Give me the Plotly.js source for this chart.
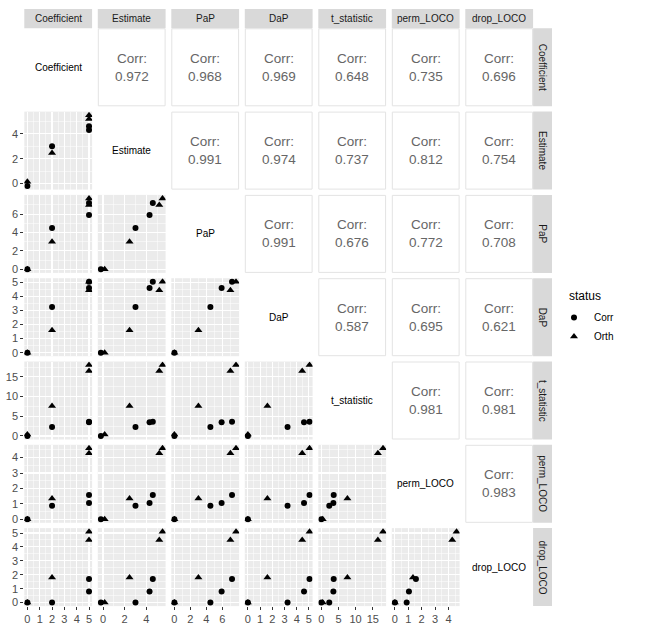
<!DOCTYPE html>
<html>
<head>
<meta charset="utf-8">
<script src="https://cdn.plot.ly/plotly-3.0.1.min.js"></script>
<style>
  body { margin: 0; background: #fff; }
  #plot { width: 669px; height: 625px; }
</style>
</head>
<body>
<div id="plot"></div>
<script>
// variables shown in the pairs matrix
const varNames = ['Coefficient', 'Estimate', 'PaP', 'DaP', 't_statistic', 'perm_LOCO', 'drop_LOCO'];
const statusNames = ['Corr', 'Orth'];

// values (status Corr / Orth)
const coefficientCorr = [0, 2, 5, 5];
const coefficientOrth = [0, 2, 5, 5];
const estimateCorr = [-0.2, 3.0, 4.3, 4.6];
const estimateOrth = [0.15, 2.45, 5.2, 5.5];
const papCorr = [0, 4.5, 5.9, 7.2];
const papOrth = [0, 3.0, 7.0, 7.7];
const dapCorr = [0, 3.25, 4.6, 5.05];
const dapOrth = [0, 1.6, 4.45, 5.05];
const tstatCorr = [0, 2.3, 3.5, 3.6];
const tstatOrth = [0.4, 7.6, 16.5, 18.0];
const permCorr = [0, 0.88, 1.05, 1.57];
const permOrth = [0, 1.35, 4.28, 4.6];
const dropCorr = [0, 0, 0.8, 1.7];
const dropOrth = [0, 1.8, 4.5, 5.1];

// major tick step of each variable's axis
const tickSteps = [1, 2, 2, 1, 5, 1, 1];

// correlation labels of the upper triangle, row by row
const corrLabels = [
  '0.972', '0.968', '0.969', '0.648', '0.735', '0.696',
  '0.991', '0.974', '0.737', '0.812', '0.754',
  '0.991', '0.676', '0.772', '0.708',
  '0.587', '0.695', '0.621',
  '0.981', '0.981',
  '0.983'
];

const values = [
  [coefficientCorr, coefficientOrth],
  [estimateCorr, estimateOrth],
  [papCorr, papOrth],
  [dapCorr, dapOrth],
  [tstatCorr, tstatOrth],
  [permCorr, permOrth],
  [dropCorr, dropOrth]
];

// page geometry in pixels
const W = 669, H = 625;
const colLeft0 = 24.3, colStride = 73.5, colWidth = 67.8;
const rowTop0 = 28.3, rowStride = 83.3, rowHeight = 78;
const stripTop = 9, stripRight = 552;

const px = v => v / W;
const py = v => 1 - v / H;
const colL = j => colLeft0 + j * colStride;
const colR = j => colL(j) + colWidth;
const rowT = i => rowTop0 + i * rowStride;
const rowB = i => rowT(i) + rowHeight;

// ggplot style: breaks inside the data range, 5% expansion of the axis
const limits = values.map(v => {
  const all = v[0].concat(v[1]);
  return [Math.min(...all), Math.max(...all)];
});
const ranges = limits.map(([lo, hi]) => {
  const pad = (hi - lo) * 0.05;
  return [lo - pad, hi + pad];
});
const breaks = limits.map(([lo, hi], k) => {
  const out = [];
  const s = tickSteps[k];
  for (let t = Math.ceil(lo / s) * s; t <= hi + 1e-9; t += s) out.push(t);
  return out;
});

const tickFont = { family: 'Liberation Sans, Arial, sans-serif', size: 11, color: '#4D4D4D' };
const data = [];
const layout = {
  width: W, height: H,
  margin: { l: 0, r: 0, t: 0, b: 0 },
  paper_bgcolor: '#fff',
  plot_bgcolor: '#EBEBEB',
  font: { family: 'Liberation Sans, Arial, sans-serif', color: '#1A1A1A' },
  showlegend: true,
  legend: {
    font: { size: 10, color: '#000' },
    x: px(554), y: py(303), xanchor: 'left', yanchor: 'top',
    bgcolor: 'rgba(0,0,0,0)', tracegroupgap: 0
  },
  shapes: [],
  annotations: [{
    xref: 'paper', yref: 'paper', x: px(567), y: py(296),
    xanchor: 'left', yanchor: 'middle', showarrow: false,
    text: 'status', font: { size: 12, color: '#000' }
  }]
};

function makeAxis(k, showLabels, domain, anchor) {
  return {
    domain: domain, anchor: anchor, range: ranges[k],
    tickmode: 'array', tickvals: breaks[k], ticktext: breaks[k].map(String),
    showgrid: true, gridcolor: '#FFFFFF', gridwidth: 1.1,
    minor: { tickmode: 'linear', tick0: 0, dtick: tickSteps[k] / 2, showgrid: true, gridcolor: '#FFFFFF', gridwidth: 0.5, ticks: '' },
    zeroline: false, showline: false,
    showticklabels: showLabels,
    ticks: showLabels ? 'outside' : '',
    ticklen: 3, tickcolor: '#333333', tickwidth: 1,
    tickfont: tickFont,
    fixedrange: true
  };
}

function label(x, y, text, font, extra) {
  layout.annotations.push(Object.assign({
    xref: 'paper', yref: 'paper', x: x, y: y,
    xanchor: 'center', yanchor: 'middle',
    text: text, showarrow: false, font: font
  }, extra || {}));
}

let n = 0;
let legendShown = false;
for (let i = 0; i < 7; i++) {
  for (let j = 0; j < 7; j++) {
    if (i > j) {
      // scatter panel
      n++;
      const xa = 'xaxis' + (n === 1 ? '' : n);
      const ya = 'yaxis' + (n === 1 ? '' : n);
      const xr = 'x' + (n === 1 ? '' : n);
      const yr = 'y' + (n === 1 ? '' : n);
      layout[xa] = makeAxis(j, i === 6, [px(colL(j)), px(colR(j))], yr);
      layout[ya] = makeAxis(i, j === 0, [py(rowB(i)), py(rowT(i))], xr);
      statusNames.forEach((s, k) => {
        data.push({
          type: 'scatter', mode: 'markers',
          x: values[j][k], y: values[i][k],
          xaxis: xr, yaxis: yr,
          name: s, legendgroup: s,
          showlegend: !legendShown,
          marker: { symbol: k === 0 ? 'circle' : 'triangle-up', size: k === 0 ? 6 : 7, color: '#000' },
          hoverinfo: 'skip'
        });
      });
      legendShown = true;
    } else if (i === j) {
      // diagonal: variable name
      label(px((colL(j) + colR(j)) / 2), py((rowT(i) + rowB(i)) / 2), varNames[i], { size: 10, color: '#000' });
    }
  }
}

// upper triangle: white boxes with correlation text
let c = 0;
for (let i = 0; i < 7; i++) {
  for (let j = i + 1; j < 7; j++) {
    layout.shapes.push({
      type: 'rect', xref: 'paper', yref: 'paper',
      x0: px(colL(j) + 0.5), x1: px(colR(j) - 0.5), y0: py(rowB(i) - 0.5), y1: py(rowT(i) + 0.5),
      fillcolor: '#FFFFFF', line: { color: '#E3E3E3', width: 1 }, layer: 'below'
    });
    label(px((colL(j) + colR(j)) / 2), py((rowT(i) + rowB(i)) / 2),
      'Corr:<br>' + corrLabels[c], { size: 13.5, color: '#666666' });
    c++;
  }
}

// strips on top and on the right
for (let k = 0; k < 7; k++) {
  layout.shapes.push({
    type: 'rect', xref: 'paper', yref: 'paper',
    x0: px(colL(k)), x1: px(colR(k)), y0: py(rowT(0)), y1: py(stripTop),
    fillcolor: '#D9D9D9', line: { width: 0 }, layer: 'below'
  });
  label(px((colL(k) + colR(k)) / 2), py((stripTop + rowT(0)) / 2), varNames[k], { size: 10, color: '#1A1A1A' });
  layout.shapes.push({
    type: 'rect', xref: 'paper', yref: 'paper',
    x0: px(colR(6)), x1: px(stripRight), y0: py(rowB(k)), y1: py(rowT(k)),
    fillcolor: '#D9D9D9', line: { width: 0 }, layer: 'below'
  });
  label(px((colR(6) + stripRight) / 2), py((rowT(k) + rowB(k)) / 2), varNames[k],
    { size: 10, color: '#1A1A1A' }, { textangle: 90 });
}

Plotly.newPlot('plot', data, layout, { displayModeBar: false, staticPlot: true });
</script>
</body>
</html>
